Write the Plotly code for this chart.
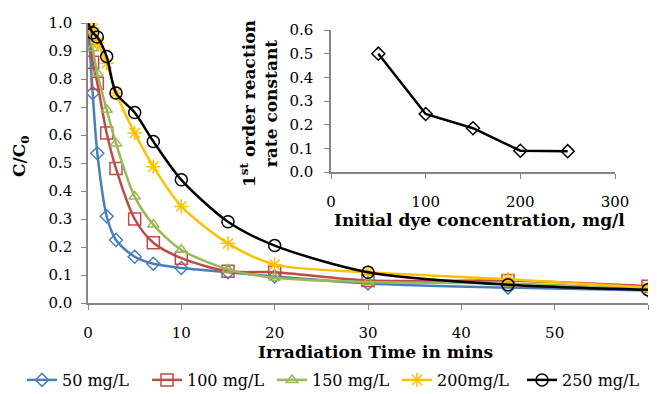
import plotly.graph_objects as go

# ---- data ----
time_min = [0, 0.5, 1, 2, 3, 5, 7, 10, 15, 20, 30, 45, 60]
c_50 = [1.0, 0.75, 0.535, 0.31, 0.225, 0.165, 0.14, 0.125, 0.11, 0.095, 0.07, 0.055, 0.045]
c_100 = [1.0, 0.86, 0.785, 0.607, 0.48, 0.30, 0.215, 0.16, 0.113, 0.11, 0.08, 0.08, 0.06]
c_150 = [1.0, 0.91, 0.82, 0.69, 0.57, 0.38, 0.28, 0.19, 0.12, 0.09, 0.075, 0.07, 0.05]
c_200 = [1.0, 0.98, 0.93, 0.856, 0.75, 0.607, 0.487, 0.345, 0.213, 0.137, 0.11, 0.085, 0.055]
c_250 = [1.0, 0.965, 0.95, 0.88, 0.75, 0.68, 0.577, 0.44, 0.29, 0.205, 0.11, 0.065, 0.047]
series_names = ["50 mg/L", "100 mg/L", "150 mg/L", "200mg/L", "250 mg/L"]

init_conc = [50, 100, 150, 200, 250]
rate_const = [0.5, 0.245, 0.185, 0.09, 0.088]

x_ticks = [0, 10, 20, 30, 40, 50, 60]
y_ticks = [0.0, 0.1, 0.2, 0.3, 0.4, 0.5, 0.6, 0.7, 0.8, 0.9, 1.0]
inset_x_ticks = [0, 100, 200, 300]
inset_y_ticks = [0.0, 0.1, 0.2, 0.3, 0.4, 0.5, 0.6]

# ---- styles ----
colors = ["#4A7EBB", "#BE4B48", "#98B954", "#FFC000", "#000000"]
symbols = ["diamond-open", "square-open", "triangle-up-open", "asterisk-open", "circle-open"]
sizes = [10, 12, 10, 12, 12]
FONT = "DejaVu Serif"
AXC = "#868686"

W, H = 657, 394

def xd(px):
    return px / W

def yd(py):
    return 1 - py / H

fig = go.Figure()
for ys, name, col, sym, sz in zip([c_50, c_100, c_150, c_200, c_250], series_names, colors, symbols, sizes):
    fig.add_trace(go.Scatter(
        x=time_min, y=ys, name=name, mode="lines+markers",
        line=dict(color=col, width=2.5, shape="spline", smoothing=0.8),
        marker=dict(symbol=sym, size=sz, color=col, line=dict(color=col, width=1.5)),
        xaxis="x", yaxis="y"))

fig.add_trace(go.Scatter(
    x=init_conc, y=rate_const, mode="lines+markers", showlegend=False,
    line=dict(color="black", width=2.5),
    marker=dict(symbol="diamond-open", size=10, color="black", line=dict(color="black", width=1.5)),
    xaxis="x2", yaxis="y2"))

def axis_common(size=15):
    return dict(showline=True, linecolor=AXC, linewidth=1.5, ticks="outside",
                tickcolor=AXC, ticklen=5, showgrid=False, zeroline=False, automargin=False,
                tickfont=dict(family=FONT, size=size, color="black"))

titles = [
    dict(text="<b>Irradiation Time in mins</b>", x=xd(375), y=yd(352), size=17, angle=0),
    dict(text="<b>C/C<sub>0</sub></b>", x=xd(20), y=yd(156), size=17, angle=-90),
    dict(text="<b>Initial dye concentration, mg/l</b>", x=xd(479), y=yd(220), size=17, angle=0),
    dict(text="<b>1<sup>st</sup> order reaction<br>rate constant</b>", x=xd(259), y=yd(104), size=17, angle=-90),
]
annotations = [
    dict(text=t["text"], x=t["x"], y=t["y"], xref="paper", yref="paper",
         xanchor="center", yanchor="middle", showarrow=False, textangle=t["angle"],
         font=dict(family=FONT, size=t["size"], color="black"))
    for t in titles
]

fig.update_layout(
    width=W, height=H,
    margin=dict(l=0, r=0, t=0, b=0, pad=0, autoexpand=False),
    paper_bgcolor="white", plot_bgcolor="white",
    font=dict(family=FONT, color="black"),
    xaxis=dict(domain=[xd(88), xd(648)], range=[0, 60], tickvals=x_ticks, ticklabelstandoff=10,
               anchor="y", **axis_common(15)),
    yaxis=dict(domain=[yd(303), yd(23)], range=[0, 1.0], tickvals=y_ticks, tickformat=".1f", ticklabelstandoff=6,
               anchor="x", **axis_common(15)),
    xaxis2=dict(domain=[xd(331), xd(615)], range=[0, 300], tickvals=inset_x_ticks, ticklabelstandoff=10,
                anchor="y2", **axis_common(15)),
    yaxis2=dict(domain=[yd(172), yd(30)], range=[0, 0.6], tickvals=inset_y_ticks, tickformat=".1f", ticklabelstandoff=8,
                anchor="x2", **axis_common(15)),
    annotations=annotations,
    legend=dict(orientation="h", x=xd(22), xanchor="left",
                y=yd(380), yanchor="middle",
                font=dict(family=FONT, size=16), entrywidth=80, entrywidthmode="pixels",
                tracegroupgap=0, bgcolor="rgba(0,0,0,0)"),
    showlegend=True,
)

fig.write_html("out.html")
